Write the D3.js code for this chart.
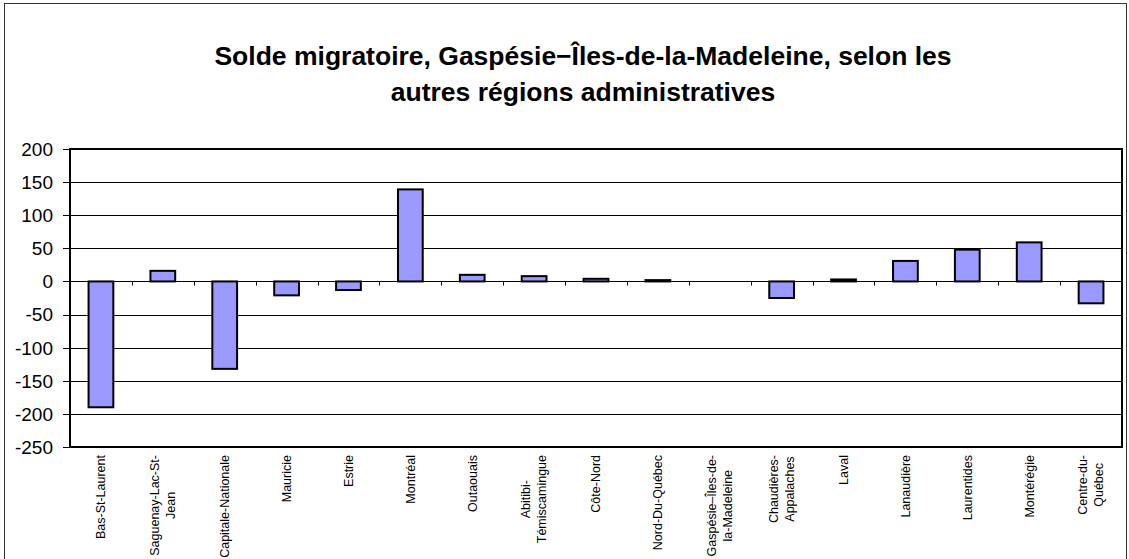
<!DOCTYPE html>
<html>
<head>
<meta charset="utf-8">
<script src="https://cdn.jsdelivr.net/npm/d3@7"></script>
<style>
  body { margin: 0; background: #fff; }
  svg text { font-family: "Liberation Sans", Arial, sans-serif; }
</style>
</head>
<body>
<div id="chart"></div>
<script>
// data
const regions = [
  ['Bas-St-Laurent'], ['Saguenay-Lac-St-', 'Jean'], ['Capitale-Nationale'],
  ['Mauricie'], ['Estrie'], ['Montréal'], ['Outaouais'],
  ['Abitibi-', 'Témiscamingue'], ['Côte-Nord'], ['Nord-Du-Québec'],
  ['Gaspésie–Îles-de-', 'la-Madeleine'], ['Chaudières-', 'Appalaches'],
  ['Laval'], ['Lanaudière'], ['Laurentides'], ['Montérégie'],
  ['Centre-du-', 'Québec']
];
const solde = [-190, 16, -132, -21, -13, 139, 10, 8, 4, 2, 0, -25, 3, 31, 48, 59, -33];
const yTicks = [200, 150, 100, 50, 0, -50, -100, -150, -200, -250];
const titleLines = ['Solde migratoire, Gaspésie−Îles-de-la-Madeleine, selon les',
                    'autres régions administratives'];

// =============================================
const W = 1129, H = 559;
const plot = { left: 70, right: 1122, top: 149, bottom: 447 };

const svg = d3.select('#chart').append('svg')
  .attr('width', W).attr('height', H);

// outer frame
svg.append('rect')
  .attr('x', 4.5).attr('y', 3.5)
  .attr('width', 1122).attr('height', 570)
  .attr('fill', 'none').attr('stroke', '#333').attr('stroke-width', 1);

// title
svg.append('g').selectAll('text')
  .data(titleLines).enter()
  .append('text')
  .attr('x', 583).attr('y', (d, i) => 65 + i * 36)
  .attr('text-anchor', 'middle')
  .attr('font-size', 26.5).attr('font-weight', 'bold')
  .text(d => d);

const x = d3.scaleBand()
  .domain(d3.range(regions.length))
  .range([plot.left, plot.right])
  .paddingInner(0.6).paddingOuter(0.3);

const y = d3.scaleLinear()
  .domain([-250, 200])
  .range([plot.bottom, plot.top]);

// grid lines
svg.append('g').selectAll('line')
  .data(yTicks).enter()
  .append('line')
  .attr('x1', plot.left - 7).attr('x2', plot.right)
  .attr('y1', d => Math.round(y(d)) + 0.5).attr('y2', d => Math.round(y(d)) + 0.5)
  .attr('stroke', '#000').attr('stroke-width', 1);

// y labels
svg.append('g').selectAll('text')
  .data(yTicks).enter()
  .append('text')
  .attr('x', 53).attr('y', d => y(d))
  .attr('dy', '0.36em')
  .attr('text-anchor', 'end')
  .attr('font-size', 19)
  .text(d => d);

// bars
svg.append('g').selectAll('rect')
  .data(solde).enter()
  .append('rect')
  .attr('x', (d, i) => x(i))
  .attr('width', x.bandwidth())
  .attr('y', d => y(Math.max(0, d)))
  .attr('height', d => Math.abs(y(d) - y(0)))
  .attr('fill', '#9999ff')
  .attr('stroke', '#000').attr('stroke-width', 2)
  .style('display', d => d === 0 ? 'none' : null);

// x axis at zero with ticks between categories
const step = x.step();
const y0 = Math.round(y(0)) + 0.5;
svg.append('line')
  .attr('x1', plot.left).attr('x2', plot.right)
  .attr('y1', y0).attr('y2', y0)
  .attr('stroke', '#000');
svg.append('g').selectAll('line')
  .data(d3.range(1, regions.length)).enter()
  .append('line')
  .attr('x1', d => Math.round(plot.left + d * step) + 0.5)
  .attr('x2', d => Math.round(plot.left + d * step) + 0.5)
  .attr('y1', y0).attr('y2', y0 + 4)
  .attr('stroke', '#000');

// plot border
svg.append('rect')
  .attr('x', plot.left).attr('y', plot.top)
  .attr('width', plot.right - plot.left).attr('height', plot.bottom - plot.top)
  .attr('fill', 'none').attr('stroke', '#000').attr('stroke-width', 2);

// category labels, rotated
const lh = 16;
const labels = svg.append('g').selectAll('g')
  .data(regions).enter()
  .append('g')
  .attr('transform', (d, i) => `translate(${x(i) + x.bandwidth() / 2},455) rotate(-90)`);

labels.each(function (lines) {
  const g = d3.select(this);
  const t = g.append('text')
    .attr('font-size', 12.5)
    .attr('text-anchor', 'middle');
  lines.forEach((s, j) => {
    t.append('tspan')
      .attr('x', 0)
      .attr('y', (j - (lines.length - 1) / 2) * lh)
      .attr('dy', '0.35em')
      .text(s);
  });
  const len = d3.max(t.selectAll('tspan').nodes(), n => n.getComputedTextLength());
  t.attr('transform', `translate(${-len / 2},0)`);
});
</script>
</body>
</html>
